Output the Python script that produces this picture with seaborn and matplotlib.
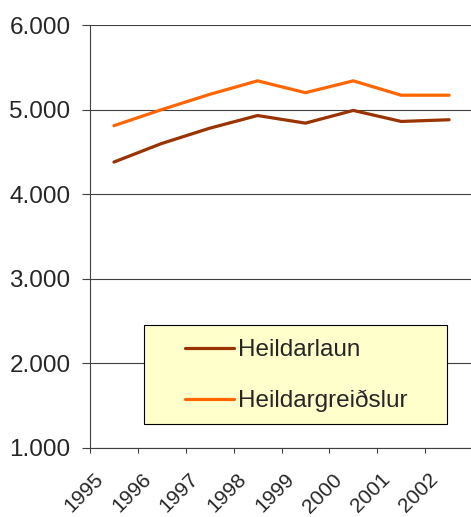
import numpy as np
import pandas as pd
import seaborn as sns
import matplotlib.pyplot as plt
from matplotlib.patches import Rectangle
from matplotlib.ticker import FuncFormatter
from matplotlib.transforms import ScaledTranslation

years = [1995, 1996, 1997, 1998, 1999, 2000, 2001, 2002]
heildarlaun = [4380, 4600, 4780, 4930, 4840, 4990, 4860, 4880]
heildargreidslur = [4810, 5000, 5180, 5340, 5200, 5340, 5170, 5170]
series_names = ["Heildarlaun", "Heildargreiðslur"]
colors = ["#993300", "#FF6600"]

df = pd.DataFrame({
    "year": years * 2,
    "value": heildarlaun + heildargreidslur,
    "series": [series_names[0]] * len(years) + [series_names[1]] * len(years),
})
# points sit in the middle of each year's slot
df["x"] = df["year"] + 0.5

sns.set_style("white")
plt.rcParams['font.family'] = ['Liberation Sans', 'DejaVu Sans']

fig = plt.figure(figsize=(4.71, 5.17), dpi=100)
ax = fig.add_axes([90 / 471, 69 / 517, 383 / 471, 423 / 517])

sns.lineplot(data=df, x="x", y="value", hue="series", palette=colors,
             linewidth=2.3, ax=ax, zorder=3)

ax.set_xlim(1995, 2003)
ax.set_ylim(1000, 6000)
ax.set_xticks(years)
ax.set_yticks(np.arange(1000, 6001, 1000))
ax.yaxis.set_major_formatter(FuncFormatter(lambda v, p: f"{v:,.0f}".replace(",", ".")))
ax.set_xlabel("")
ax.set_ylabel("")

ax.grid(axis='y', color='#404040', linewidth=0.8)
ax.grid(axis='x', visible=False)
for s in ['top', 'right']:
    ax.spines[s].set_visible(False)
for s in ['left', 'bottom']:
    ax.spines[s].set_color('#404040')
    ax.spines[s].set_linewidth(0.8)
ax.tick_params(axis='y', direction='out', length=6, width=0.8, color='#404040',
               pad=8, labelsize=17.5, left=True)
ax.tick_params(axis='x', direction='out', length=3.6, width=0.8, color='#404040',
               pad=17, labelsize=15, bottom=True)

# rotated year labels, nudged right like the original
ax.set_xticklabels([str(y) for y in years], rotation=45, ha='right',
                   va='center', rotation_mode='anchor')
shift = ScaledTranslation(0.10, 0, fig.dpi_scale_trans)
for lbl in ax.get_xticklabels():
    lbl.set_transform(lbl.get_transform() + shift)

ax.add_patch(Rectangle((0.141, 0.057), 0.791, 0.234, transform=ax.transAxes,
                       facecolor='#FFFFCC', edgecolor='black', linewidth=0.8,
                       zorder=4))
leg = ax.legend(loc='upper left', bbox_to_anchor=(0.248, 0.257), frameon=False,
                fontsize=17.5, handlelength=2.0, handletextpad=0.2,
                labelspacing=1.18, borderpad=0, borderaxespad=0)
leg.set_zorder(5)

fig.savefig("out.png", dpi=100)
